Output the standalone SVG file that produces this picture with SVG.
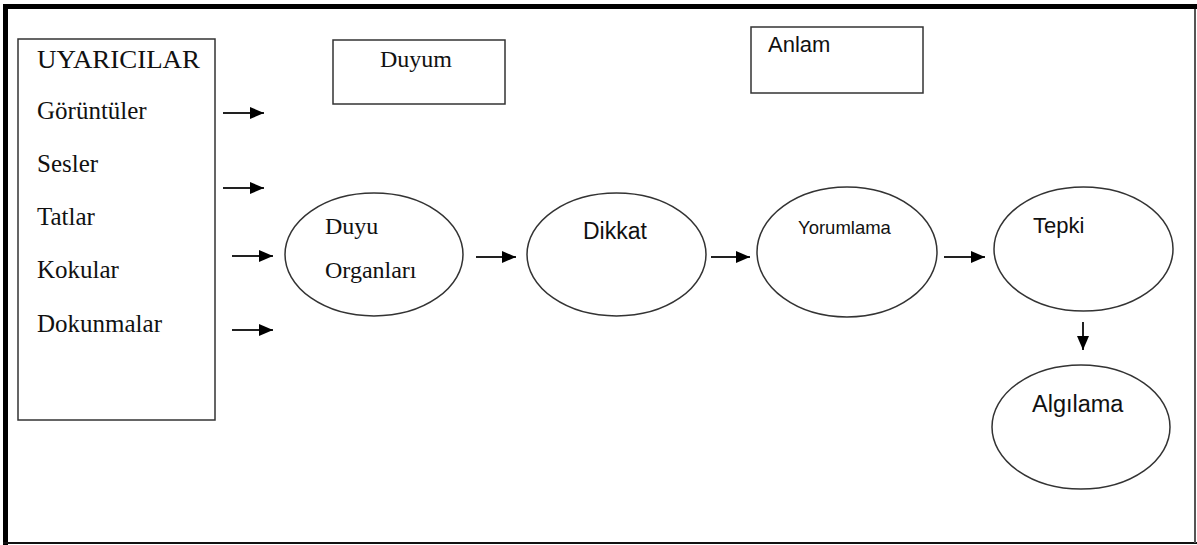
<svg xmlns="http://www.w3.org/2000/svg" width="1197" height="545" viewBox="0 0 1197 545">
  <defs>
    <marker id="arrowhead" viewBox="0 0 14 12" refX="14" refY="6" markerWidth="14" markerHeight="12" markerUnits="userSpaceOnUse" orient="auto">
      <path d="M0,0 L14,6 L0,12 Z" fill="#000"/>
    </marker>
  </defs>
  <style>
    .frame { fill: #000; }
    .box { fill: #fff; stroke: #333; stroke-width: 1.5; }
    .node { fill: #fff; stroke: #333; stroke-width: 1.5; }
    .serif { font-family: "Liberation Serif", "Times New Roman", serif; font-size: 25px; fill: #111; }
    .sans { font-family: "Liberation Sans", Arial, sans-serif; font-size: 22px; fill: #111; }
    .conn { stroke: #222; stroke-width: 2; fill: none; marker-end: url(#arrowhead); }
  </style>

  <rect width="1197" height="545" fill="#fff"/>

  <!-- outer frame -->
  <g id="frame">
    <rect class="frame" x="3" y="4" width="1194" height="5"/>
    <rect class="frame" x="3" y="4" width="5" height="541"/>
    <rect x="3" y="542" width="1194" height="2" fill="#111"/>
    <rect x="1194" y="9" width="2" height="534" fill="#555"/>
  </g>

  <!-- stimuli list -->
  <g id="uyaricilar">
    <rect class="box" x="18" y="39" width="197" height="381"/>
    <text class="serif" x="37" y="68" textLength="163" lengthAdjust="spacingAndGlyphs">UYARICILAR</text>
    <text class="serif" x="37" y="119">Görüntüler</text>
    <text class="serif" x="37" y="172">Sesler</text>
    <text class="serif" x="37" y="225">Tatlar</text>
    <text class="serif" x="37" y="278">Kokular</text>
    <text class="serif" x="37" y="332">Dokunmalar</text>
  </g>

  <g id="duyum">
    <rect class="box" x="333" y="40" width="172" height="64"/>
    <text class="serif" x="380" y="67" style="font-size:24px">Duyum</text>
  </g>

  <g id="anlam">
    <rect class="box" x="751" y="27" width="172" height="66"/>
    <text class="sans" x="768" y="52">Anlam</text>
  </g>

  <g id="duyu-organlari">
    <ellipse class="node" cx="374" cy="254.5" rx="89" ry="61.5"/>
    <text class="serif" x="325" y="234" style="font-size:24px">Duyu</text>
    <text class="serif" x="325" y="278" style="font-size:24px">Organları</text>
  </g>

  <g id="dikkat">
    <ellipse class="node" cx="616.5" cy="254.5" rx="89.5" ry="61.5"/>
    <text class="sans" x="583" y="239" style="font-size:23px">Dikkat</text>
  </g>

  <g id="yorumlama">
    <ellipse class="node" cx="847" cy="252" rx="90" ry="65"/>
    <text class="sans" x="798" y="234" style="font-size:18.5px">Yorumlama</text>
  </g>

  <g id="tepki">
    <ellipse class="node" cx="1083.5" cy="249" rx="89.5" ry="62"/>
    <text class="sans" x="1033" y="233">Tepki</text>
  </g>

  <g id="algilama">
    <ellipse class="node" cx="1081" cy="427" rx="89" ry="62"/>
    <text class="sans" x="1032" y="412" style="font-size:23.5px">Algılama</text>
  </g>

  <!-- connectors -->
  <g id="connectors">
    <line class="conn" x1="223" y1="113" x2="264" y2="113"/>
    <line class="conn" x1="223" y1="188" x2="264" y2="188"/>
    <line class="conn" x1="232" y1="256" x2="273" y2="256"/>
    <line class="conn" x1="232" y1="330" x2="273" y2="330"/>
    <line class="conn" x1="476" y1="257" x2="516" y2="257"/>
    <line class="conn" x1="711" y1="257" x2="750" y2="257"/>
    <line class="conn" x1="944" y1="257" x2="985" y2="257"/>
    <line class="conn" x1="1083" y1="322" x2="1083" y2="350"/>
  </g>
</svg>
